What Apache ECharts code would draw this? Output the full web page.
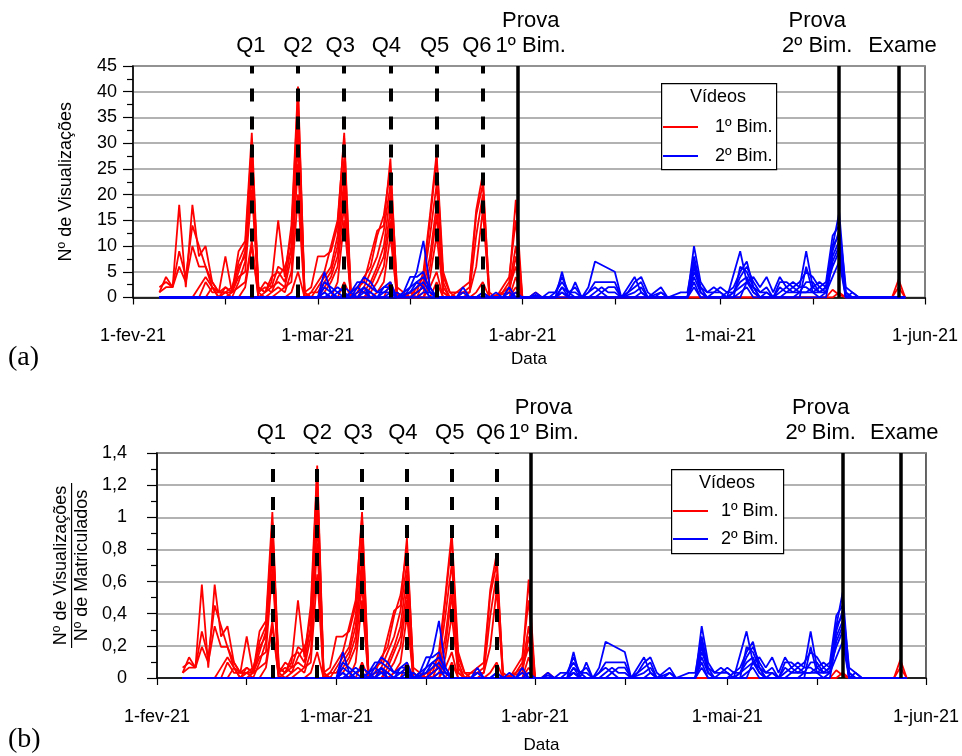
<!DOCTYPE html>
<html>
<head>
<meta charset="utf-8">
<script src="https://cdn.jsdelivr.net/npm/echarts@6/dist/echarts.min.js"></script>
<style>
  html, body { margin: 0; padding: 0; background: #fff; }
  #chart { width: 962px; height: 756px; }
</style>
</head>
<body>
<div id="chart"></div>
<script>
// dias contados a partir de 1-fev-21 (dia 0)
const xTickDays = [0, 14, 28, 42, 59, 73, 89, 103, 120]
const xLabelDays = [0, 28, 59, 89, 120]
const xLabels = ['1-fev-21', '1-mar-21', '1-abr-21', '1-mai-21', '1-jun-21']
const quizDays = [18, 25, 32, 39, 46, 53]
const quizLabels = ['Q1', 'Q2', 'Q3', 'Q4', 'Q5', 'Q6']
const examDays = [58.3, 107, 116]
const examLabels = ['Prova\n1º Bim.', 'Prova\n2º Bim.', 'Exame']
const matriculados = 31

// vídeos do 1º bimestre: [dia, visualizações]
const red1 = [[4,1],[5,4],[6,2],[7,18],[8,2],[9,18],[10,8],[11,10],[12,3],[13,1],[14,8],[15,1],[16,9],[17,11],[18,32],[19,2],[20,1],[21,3],[22,15],[23,4],[24,14],[25,41],[26,1],[27,2],[28,8],[29,8],[30,9],[31,14],[32,32],[33,1],[34,2],[35,3],[36,8],[37,13],[38,14],[39,27],[40,1],[41,0],[42,1],[43,1],[44,5],[45,16],[46,28],[47,5],[48,1],[49,1],[50,2],[51,3],[52,17],[53,24],[54,0],[55,0],[56,1],[57,3],[58,19],[59,0],[106,0],[107,1],[108,0],[115,0],[116,3.5],[117,0]]
const red2 = [[4,2],[5,3],[6,2],[7,9],[8,4],[9,14],[10,10],[11,6],[12,2],[13,1],[14,2],[15,1],[16,7],[17,10],[18,30],[19,1],[20,3],[21,2],[22,6],[23,5],[24,12],[25,40],[26,0],[27,1],[28,3],[29,5],[30,10],[31,15],[32,31],[33,0],[34,1],[35,4],[36,6],[37,12],[38,16],[39,25],[40,2],[41,1],[42,0],[43,2],[44,4],[45,15],[46,27],[47,3],[48,0],[49,1],[50,1],[51,2],[52,16],[53,22],[54,1],[55,0],[56,2],[57,4],[58,15],[59,0],[105,0],[106,1.5],[107,0.5],[108,0],[115,0],[116,2],[117,0]]
const red3 = [[4,1],[5,2],[6,2],[7,6],[8,3],[9,10],[10,6],[11,6],[12,3],[13,1],[14,1],[15,2],[16,6],[17,8],[18,29],[19,2],[20,1],[21,4],[22,5],[23,3],[24,10],[25,37],[26,1],[27,0],[28,2],[29,4],[30,6],[31,12],[32,27],[33,1],[34,0],[35,2],[36,5],[37,8],[38,13],[39,22],[40,1],[41,0],[42,1],[43,0],[44,3],[45,12],[46,22],[47,4],[48,1],[49,0],[50,1],[51,1],[52,12],[53,20],[54,0],[56,1],[57,2],[58,10],[59,0],[60,0],[61,1],[62,0]]
const red4 = [[9,0],[10,2],[11,4],[12,2],[13,0],[14,1],[15,1],[16,5],[17,9],[18,27],[19,1],[20,2],[21,1],[22,4],[23,6],[24,9],[25,33],[26,0],[27,1],[28,1],[29,3],[30,5],[31,10],[32,23],[33,0],[34,1],[35,1],[36,3],[37,6],[38,10],[39,20],[40,0],[41,1],[42,0],[43,1],[44,2],[45,8],[46,18],[47,2],[48,0],[50,0],[51,1],[52,6],[53,17],[54,0],[57,1],[58,8],[59,0]]
const red5 = [[10,0],[11,3],[12,1],[13,1],[14,1],[15,0],[16,3],[17,7],[18,24],[19,0],[20,1],[21,2],[22,3],[23,2],[24,8],[25,30],[26,1],[27,0],[28,0],[29,2],[30,4],[31,8],[32,21],[33,0],[35,0],[36,2],[37,5],[38,8],[39,17],[40,0],[43,0],[44,1],[45,6],[46,16],[47,1],[48,0],[51,0],[52,1],[53,3],[54,0],[56,0],[57,2],[58,6],[59,0]]
const red6 = [[11,0],[12,2],[13,0],[14,2],[15,1],[16,4],[17,5],[18,21],[19,1],[20,0],[21,1],[22,2],[23,1],[24,5],[25,26],[26,0],[28,0],[29,1],[30,3],[31,6],[32,18],[33,0],[35,0],[36,1],[37,3],[38,6],[39,15],[40,0],[44,0],[45,4],[46,12],[47,1],[48,0],[57,0],[58,4],[59,0]]
const red7 = [[14,0],[15,1],[16,2],[17,3],[18,11],[19,0],[21,0],[22,1],[23,2],[24,3],[25,20],[26,0],[30,0],[31,3],[32,15],[33,0],[36,0],[37,1],[38,3],[39,12],[40,0],[44,0],[45,2],[46,5],[47,0],[57,0],[58,2],[59,0]]
const red8 = [[16,0],[17,2],[18,10],[19,0],[23,0],[24,1],[25,5],[26,0],[31,0],[32,3],[33,0],[38,0],[39,3],[40,0],[45,0],[46,3],[47,0],[57,0],[58,1],[59,0]]

// vídeos do 2º bimestre
const blue1 = [[4,0],[28,0],[29,5],[30,1],[31,2],[32,1],[33,0],[34,2],[35,4],[36,3],[37,1],[38,2],[39,3],[40,0],[42,2],[43,5],[44,11],[45,2],[46,0],[49,0],[50,2],[51,0],[52,0],[53,1],[54,0],[56,0],[57,2],[58,0],[64,0],[65,5],[66,0],[67,3],[68,0],[69,2],[70,7],[73,5],[74,0],[76,4],[77,1],[78,0],[80,2],[81,0],[84,0],[85,10],[86,3],[87,1],[88,2],[89,1],[90,0],[92,9],[93,3],[94,4],[95,2],[96,4],[97,1],[98,4],[99,2],[100,3],[101,2],[102,9],[103,2],[104,3],[105,2],[106,10],[107,16.5],[108,1],[109,0],[117,0]]
const blue2 = [[4,0],[28,0],[29,3],[30,2],[31,1],[32,0],[33,1],[34,3],[35,3],[36,2],[37,1],[38,1],[39,2],[40,0],[41,1],[42,4],[43,4],[44,5],[45,1],[46,0],[56,0],[57,1],[58,0],[60,0],[61,1],[62,0],[63,1],[64,1],[65,3],[66,1],[67,2],[68,0],[69,1],[70,3],[71,3],[72,3],[73,3],[74,0],[75,1],[76,3],[77,4],[78,1],[79,0],[80,1],[81,0],[83,1],[84,1],[85,8],[86,2],[87,1],[88,1],[89,2],[90,1],[91,2],[92,5],[93,7],[94,2],[95,1],[96,2],[97,0],[98,3],[99,3],[100,2],[101,3],[102,5],[103,4],[104,2],[105,3],[106,12],[107,14],[108,2],[109,1],[110,0],[117,0]]
const blue3 = [[4,0],[28,0],[29,2],[30,1],[31,0],[33,0],[34,1],[35,2],[36,1],[37,0],[38,1],[39,1],[40,0],[42,1],[43,3],[44,4],[45,2],[46,0],[49,0],[50,1],[51,0],[60,0],[61,0.5],[62,0],[64,0],[65,2],[66,1],[67,1],[68,0],[69,1],[70,2],[71,1],[72,2],[73,2],[74,0],[76,2],[77,3],[78,0],[80,1],[81,0],[84,0],[85,6],[86,1],[87,0],[88,1],[89,1],[90,0],[91,1],[92,4],[93,6],[94,3],[95,1],[96,1],[97,0],[98,2],[99,1],[100,2],[101,1],[102,3],[103,3],[104,1],[105,2],[106,10],[107,12],[108,1],[109,0],[117,0]]
const blue4 = [[4,0],[28,0],[29,1],[30,0],[32,0],[33,1],[34,2],[35,1],[36,0],[38,0],[39,1],[40,0],[42,1],[43,2],[44,3],[45,1],[46,0],[52,0],[53,1],[54,0],[55,1],[56,0],[64,0],[65,1],[66,0],[69,0],[70,1],[71,2],[72,1],[73,1],[74,0],[76,1],[77,2],[78,0],[84,0],[85,4],[86,1],[87,0],[89,0],[90,1],[91,1],[92,3],[93,4],[94,1],[95,0],[96,1],[97,0],[98,1],[99,2],[100,1],[101,2],[102,2],[103,1],[104,2],[105,1],[106,8],[107,11],[108,0],[117,0]]
const blue5 = [[4,0],[29,0],[30,1],[31,0],[34,0],[35,1],[36,1],[37,0],[42,0],[43,1],[44,2],[45,0],[64,0],[65,1],[66,0],[70,0],[71,1],[72,0],[84,0],[85,3],[86,0],[90,0],[91,1],[92,2],[93,3],[94,1],[95,0],[98,0],[99,1],[100,1],[101,1],[102,1],[103,2],[104,1],[105,2],[106,6],[107,9],[108,0],[117,0]]
const blue6 = [[4,0],[84,0],[85,2],[86,0],[91,0],[92,1],[93,2],[94,0],[100,0],[101,1],[102,1],[103,1],[104,1],[105,1],[106,4],[107,7],[108,0],[117,0]]
const blue7 = [[4,0],[28,0],[29,1],[30,0],[34,0],[35,2],[36,0],[39,0],[40,1],[41,0],[42,2],[43,3],[44,2],[45,0],[63,0],[64,1],[65,4],[66,1],[67,0],[76,0],[77,1],[78,0],[84,0],[85,5],[86,2],[87,0],[91,0],[92,6],[93,5],[94,2],[95,0],[101,0],[102,6],[103,1],[104,0],[105,1],[106,9],[107,13],[108,0],[117,0]]
const blue8 = [[4,0],[30,0],[31,1],[32,2],[33,1],[34,0],[37,0],[38,2],[39,2],[40,0],[43,0],[44,1],[45,1],[46,0],[57,0],[58,1],[59,0],[64,0],[65,2],[66,0],[84,0],[85,7],[86,1],[87,0],[92,0],[93,3],[94,2],[95,0],[105,0],[106,7],[107,10],[108,0],[109,1],[110,0],[117,0]]

const redVideos = [red1, red2, red3, red4, red5, red6, red7, red8]
const blueVideos = [blue1, blue2, blue3, blue4, blue5, blue6, blue7, blue8]

const font = 'Liberation Sans, Arial, sans-serif'
// deslocamento horizontal (px) dos rótulos das linhas verticais
const quizShift = [-1, 0, -4, -4, -2, -6]
const examShift = [13, -22, 4]

function shiftPadding(s) {
  return s >= 0 ? [0, 0, 0, 2 * s] : [0, -2 * s, 0, 0]
}

function markerLines() {
  const label = {
    show: true,
    position: 'end',
    color: '#000',
    fontFamily: font,
    fontSize: 22,
    lineHeight: 25,
    distance: 8
  }
  const quiz = quizDays.map((d, i) => ({
    xAxis: d,
    lineStyle: { color: '#000', width: 4, type: [13, 15] },
    label: Object.assign({}, label, { formatter: quizLabels[i], padding: shiftPadding(quizShift[i]) })
  }))
  const exams = examDays.map((d, i) => ({
    xAxis: d,
    lineStyle: { color: '#000', width: 3.5, type: 'solid' },
    label: Object.assign({}, label, { formatter: examLabels[i], padding: shiftPadding(examShift[i]) })
  }))
  return quiz.concat(exams)
}

function xAxisFor(gridIndex, nameGap) {
  return {
    type: 'value',
    gridIndex: gridIndex,
    min: 0,
    max: 120,
    name: 'Data',
    nameLocation: 'middle',
    nameGap: nameGap,
    nameTextStyle: { color: '#000', fontFamily: font, fontSize: 17 },
    axisLine: { show: true, lineStyle: { color: '#000', width: 1.5 } },
    axisTick: { show: true, inside: false, length: 7, customValues: xTickDays, lineStyle: { color: '#000', width: 1.2 } },
    axisLabel: {
      customValues: xLabelDays,
      margin: 30,
      color: '#000',
      fontFamily: font,
      fontSize: 18,
      formatter: v => xLabels[xLabelDays.indexOf(v)]
    },
    splitLine: { show: false }
  }
}

function yAxisCommon() {
  return {
    type: 'value',
    min: 0,
    nameLocation: 'middle',
    nameTextStyle: { color: '#000', fontFamily: font, fontSize: 18 },
    axisLine: { show: true, lineStyle: { color: '#000', width: 1.5 } },
    axisTick: { show: true, inside: false, length: 10, lineStyle: { color: '#000', width: 1.2 } },
    minorTick: { show: true, splitNumber: 2, length: 6, lineStyle: { color: '#000', width: 1.2 } },
    splitLine: { show: true, lineStyle: { color: '#999', width: 1.6 } },
    axisLabel: { color: '#000', fontFamily: font, fontSize: 18, margin: 16 }
  }
}

const series = []
redVideos.forEach(v => {
  series.push({ name: '1º Bim.', type: 'line', xAxisIndex: 0, yAxisIndex: 0, data: v })
  series.push({ name: '1º Bim.', type: 'line', xAxisIndex: 1, yAxisIndex: 1, data: v.map(p => [p[0], p[1] / matriculados]) })
})
blueVideos.forEach(v => {
  series.push({ name: '2º Bim.', type: 'line', xAxisIndex: 0, yAxisIndex: 0, data: v })
  series.push({ name: '2º Bim.', type: 'line', xAxisIndex: 1, yAxisIndex: 1, data: v.map(p => [p[0], p[1] / matriculados]) })
})
series.forEach(s => {
  const c = s.name === '1º Bim.' ? '#ff0000' : '#0000ff'
  s.symbol = 'none'
  s.color = c
  s.lineStyle = { color: c, width: 1.8 }
  s.silent = true
})
// linhas verticais dos questionários e provas (por cima das curvas)
series.push({ name: 'marcos', type: 'line', xAxisIndex: 0, yAxisIndex: 0, data: [], markLine: { symbol: ['none', 'none'], silent: true, data: markerLines() } })
series.push({ name: 'marcos', type: 'line', xAxisIndex: 1, yAxisIndex: 1, data: [], markLine: { symbol: ['none', 'none'], silent: true, data: markerLines() } })

const legendCommon = {
  orient: 'vertical',
  data: ['1º Bim.', '2º Bim.'],
  padding: 0,
  z: 20,
  icon: 'rect',
  itemWidth: 35,
  itemHeight: 2
}

const chart = echarts.init(document.getElementById('chart'))
chart.setOption({
  animation: false,
  backgroundColor: '#fff',
  grid: [
    { left: 133, right: 37, top: 66, height: 231.5, show: true, borderColor: '#555', borderWidth: 1.5, backgroundColor: 'transparent' },
    { left: 157, right: 35, top: 453, height: 225, show: true, borderColor: '#333', borderWidth: 1.5, backgroundColor: 'transparent' }
  ],
  xAxis: [xAxisFor(0, 53), xAxisFor(1, 59)],
  yAxis: [
    Object.assign(yAxisCommon(), {
      gridIndex: 0, max: 45, interval: 5,
      name: 'Nº de Visualizações', nameGap: 58
    }),
    Object.assign(yAxisCommon(), {
      gridIndex: 1, max: 1.4, interval: 0.2,
      name: '{a|Nº de Visualizações}\n{bar| }\n{a|Nº de Matriculados}',
      nameGap: 62,
      nameTextStyle: {
        color: '#000', fontFamily: font, fontSize: 18,
        rich: {
          a: { fontFamily: font, fontSize: 18, color: '#000', lineHeight: 19 },
          bar: { width: 165, height: 1.2, lineHeight: 2, backgroundColor: '#000', fontSize: 1 }
        }
      },
      axisLabel: {
        color: '#000', fontFamily: font, fontSize: 18, margin: 30,
        formatter: v => v === 0 ? '0' : String(+v.toFixed(1)).replace('.', ',')
      }
    })
  ],
  legend: [
    Object.assign({
      left: 663, top: 118, itemGap: 11,
      textStyle: { color: '#000', fontFamily: font, fontSize: 18, padding: [0, 0, 0, 12] }
    }, legendCommon),
    Object.assign({
      left: 673, top: 502, itemGap: 10,
      textStyle: { color: '#000', fontFamily: font, fontSize: 18, padding: [0, 0, 0, 8] }
    }, legendCommon)
  ],
  graphic: [
    { type: 'rect', left: 661, top: 83, shape: { width: 115, height: 86 }, style: { fill: '#fff', stroke: '#000', lineWidth: 1.2 }, z: 5 },
    { type: 'text', left: 690, top: 88, style: { text: 'Vídeos', fill: '#000', font: '18px ' + font }, z: 6 },
    { type: 'rect', left: 671, top: 469, shape: { width: 112, height: 84 }, style: { fill: '#fff', stroke: '#000', lineWidth: 1.2 }, z: 5 },
    { type: 'text', left: 699, top: 474, style: { text: 'Vídeos', fill: '#000', font: '18px ' + font }, z: 6 },
    { type: 'text', left: 8, top: 344, style: { text: '(a)', fill: '#000', font: '28px Liberation Serif, Times New Roman, serif' } },
    { type: 'text', left: 8, top: 726, style: { text: '(b)', fill: '#000', font: '28px Liberation Serif, Times New Roman, serif' } }
  ],
  series: series
})
</script>
</body>
</html>
